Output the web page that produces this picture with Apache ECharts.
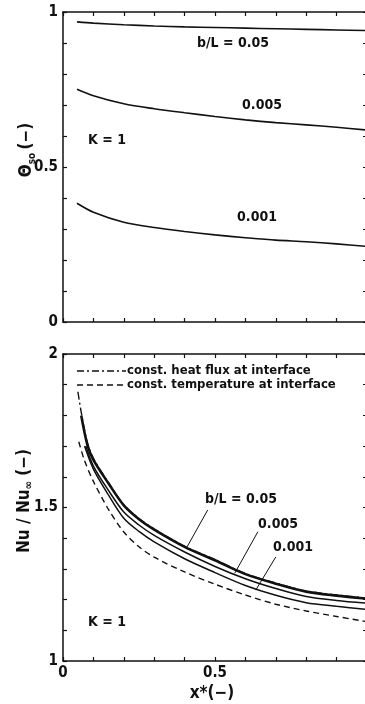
<!DOCTYPE html>
<html>
<head>
<meta charset="utf-8">
<script src="https://cdn.jsdelivr.net/npm/echarts@6/dist/echarts.min.js"></script>
<style>
  html, body { margin: 0; padding: 0; background: #fff; }
  #chart { width: 365px; height: 704px; }
</style>
</head>
<body>
<div id="chart"></div>
<script>
// upper panel: theta_so vs x*
var topX = [0.046, 0.1, 0.2, 0.3, 0.4, 0.5, 0.6, 0.7, 0.8, 0.9, 1.0];
var theta005 = [0.968, 0.964, 0.959, 0.955, 0.952, 0.950, 0.948, 0.946, 0.944, 0.942, 0.940];
var theta0005 = [0.751, 0.730, 0.704, 0.688, 0.675, 0.663, 0.652, 0.643, 0.636, 0.628, 0.619];
var theta0001 = [0.383, 0.354, 0.322, 0.305, 0.292, 0.281, 0.272, 0.264, 0.259, 0.252, 0.244];

// lower panel: Nu/Nu_inf vs x*
var nuX = [0.1, 0.15, 0.2, 0.25, 0.3, 0.4, 0.5, 0.6, 0.7, 0.8, 0.9, 1.0];
var fluxX0 = [0.049, 0.06, 0.08];
var flux0 = [1.877, 1.81, 1.712];
var fluxNu = [1.66, 1.580, 1.509, 1.464, 1.430, 1.374, 1.330, 1.285, 1.254, 1.228, 1.215, 1.205];
var nu005X0 = [0.06, 0.08];
var nu005_0 = [1.80, 1.705];
var nu005 = [1.655, 1.578, 1.507, 1.462, 1.428, 1.372, 1.328, 1.283, 1.252, 1.226, 1.213, 1.203];
var nu0005X0 = [0.075];
var nu0005_0 = [1.70];
var nu0005 = [1.635, 1.555, 1.485, 1.443, 1.409, 1.355, 1.308, 1.268, 1.236, 1.210, 1.197, 1.188];
var nu0001X0 = [0.071];
var nu0001_0 = [1.70];
var nu0001 = [1.625, 1.540, 1.465, 1.422, 1.388, 1.333, 1.288, 1.246, 1.214, 1.190, 1.178, 1.168];
var tempX0 = [0.052, 0.07];
var temp0 = [1.714, 1.655];
var tempNu = [1.585, 1.493, 1.420, 1.372, 1.338, 1.290, 1.250, 1.215, 1.185, 1.163, 1.145, 1.128];

// leader lines for the b/L labels in the lower panel [x1, y1, x2, y2]
var leaders = [
  [0.476, 1.492, 0.406, 1.368],
  [0.641, 1.421, 0.565, 1.286],
  [0.700, 1.339, 0.634, 1.231]
];

var ink = '#111';
var font = '"DejaVu Sans Condensed", "Liberation Sans Narrow", sans-serif';

function pairs(xs, ys) {
  return xs.map(function (x, i) { return [x, ys[i]]; });
}

function tickLabel(v) {
  var t = Math.round(v * 10);
  return t % 5 === 0 ? String(t / 10) : '';
}

// the x=1 label falls outside the picture in the original
function xTickLabel(v) {
  return v > 0.95 ? '' : tickLabel(v);
}

function axis(type, grid, pos, labels, min, max) {
  return {
    type: 'value', gridIndex: grid, position: pos, min: min, max: max, interval: 0.1,
    axisLine: { show: true, onZero: false, lineStyle: { color: ink, width: 1.5 } },
    axisTick: { show: true, inside: true, length: 4, lineStyle: { color: ink, width: 1.2 } },
    axisLabel: { show: labels, formatter: type === 'x' ? xTickLabel : tickLabel, color: ink,
      fontSize: 15, fontFamily: font, fontWeight: 'bold', margin: 5 },
    splitLine: { show: false }
  };
}

function curve(name, xi, yi, data, width, dash) {
  return {
    name: name, type: 'line', xAxisIndex: xi, yAxisIndex: yi, data: data,
    smooth: 0.3, symbol: 'none', silent: true,
    lineStyle: { color: ink, width: width, type: dash || 'solid' }
  };
}

function txt(x, y, text, size, extra) {
  var o = { type: 'text', x: x, y: y, silent: true,
    style: { text: text, fill: ink, font: 'bold ' + size + 'px ' + font,
      align: 'center', verticalAlign: 'middle' } };
  for (var k in extra) o[k] = extra[k];
  return o;
}

var chart = echarts.init(document.getElementById('chart'));

var nu005Series = curve('b/L=0.05', 2, 2, pairs(nu005X0.concat(nuX), nu005_0.concat(nu005)), 2.6);
nu005Series.markLine = {
  silent: true, symbol: 'none', label: { show: false },
  lineStyle: { color: ink, width: 1, type: 'solid' },
  data: leaders.map(function (l) { return [{ coord: [l[0], l[1]] }, { coord: [l[2], l[3]] }]; })
};

var option = {
  animation: false,
  backgroundColor: '#fff',
  grid: [
    { left: 63, top: 12, width: 304, height: 310, outerBoundsMode: 'none' },
    { left: 63, top: 354, width: 304, height: 307, outerBoundsMode: 'none' }
  ],
  xAxis: [
    axis('x', 0, 'bottom', false, 0, 1),
    axis('x', 0, 'top', false, 0, 1),
    axis('x', 1, 'bottom', true, 0, 1),
    axis('x', 1, 'top', false, 0, 1)
  ],
  yAxis: [
    axis('y', 0, 'left', true, 0, 1),
    axis('y', 0, 'right', false, 0, 1),
    axis('y', 1, 'left', true, 1, 2),
    axis('y', 1, 'right', false, 1, 2)
  ],
  series: [
    curve('0.05', 0, 0, pairs(topX, theta005), 1.6),
    curve('0.005', 0, 0, pairs(topX, theta0005), 1.6),
    curve('0.001', 0, 0, pairs(topX, theta0001), 1.6),
    curve('const. heat flux', 2, 2, pairs(fluxX0.concat(nuX), flux0.concat(fluxNu)), 1.4, [8, 3, 2, 3]),
    nu005Series,
    curve('b/L=0.005', 2, 2, pairs(nu0005X0.concat(nuX), nu0005_0.concat(nu0005)), 1.5),
    curve('b/L=0.001', 2, 2, pairs(nu0001X0.concat(nuX), nu0001_0.concat(nu0001)), 1.5),
    curve('const. temperature', 2, 2, pairs(tempX0.concat(nuX), temp0.concat(tempNu)), 1.4, [6, 4])
  ],
  graphic: [
    // upper panel labels
    txt(233, 43, 'b/L = 0.05', 14),
    txt(262, 105, '0.005', 14),
    txt(257, 217, '0.001', 14),
    txt(107, 140, 'K = 1', 14),
    {
      type: 'text', x: 27, y: 150, rotation: Math.PI / 2, silent: true,
      style: {
        text: '{a|Θ}{s|so} {a|(−)}', fill: ink, align: 'center', verticalAlign: 'middle',
        rich: {
          a: { font: 'bold 17px ' + font, fill: ink, lineHeight: 20 },
          s: { font: 'bold 10px ' + font, fill: ink, lineHeight: 20, verticalAlign: 'bottom' }
        }
      }
    },
    // lower panel legend
    { type: 'line', silent: true, shape: { x1: 77, y1: 371, x2: 126, y2: 371 },
      style: { stroke: ink, lineWidth: 1.4, lineDash: [7, 3, 2, 3] } },
    { type: 'text', x: 127, y: 371, silent: true,
      style: { text: 'const. heat flux at interface', fill: ink, font: 'bold 13px ' + font,
        align: 'left', verticalAlign: 'middle' } },
    { type: 'line', silent: true, shape: { x1: 77, y1: 385, x2: 126, y2: 385 },
      style: { stroke: ink, lineWidth: 1.4, lineDash: [6, 4] } },
    { type: 'text', x: 127, y: 385, silent: true,
      style: { text: 'const. temperature at interface', fill: ink, font: 'bold 13px ' + font,
        align: 'left', verticalAlign: 'middle' } },
    txt(241, 499, 'b/L = 0.05', 14),
    txt(278, 524, '0.005', 14),
    txt(293, 547, '0.001', 14),
    txt(107, 622, 'K = 1', 14),
    {
      type: 'text', x: 25, y: 501, rotation: Math.PI / 2, silent: true,
      style: {
        text: '{a|Nu / Nu}{s|∞}{a| (−)}', fill: ink, align: 'center', verticalAlign: 'middle',
        rich: {
          a: { font: 'bold 17px ' + font, fill: ink, lineHeight: 20 },
          s: { font: 'bold 11px ' + font, fill: ink, lineHeight: 20, verticalAlign: 'bottom' }
        }
      }
    },
    txt(212, 694, 'x*(−)', 17)
  ]
};

chart.setOption(option);
</script>
</body>
</html>
